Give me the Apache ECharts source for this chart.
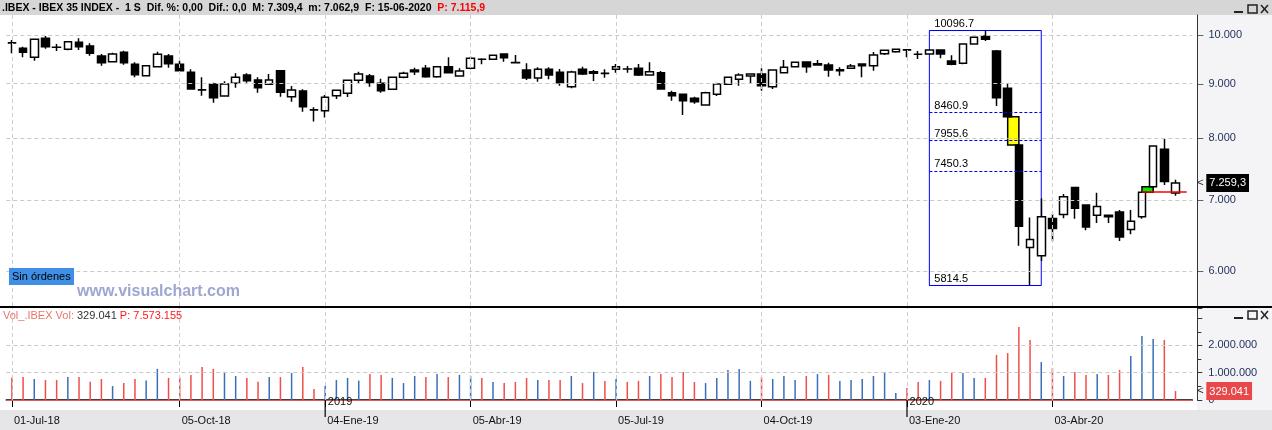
<!DOCTYPE html>
<html><head><meta charset="utf-8">
<script src="https://cdn.jsdelivr.net/npm/echarts/dist/echarts.min.js"></script>
<style>html,body{margin:0;padding:0;background:#d8d8d8}#c{width:1272px;height:430px}</style>
</head><body><div id="c"></div>
<script>
const FONT = 'Liberation Sans, Arial, sans-serif';

// weekly categories (last slot left empty, as in the reference)
const weeks = ['22-Jun-18','29-Jun-18','06-Jul-18','13-Jul-18','20-Jul-18','27-Jul-18','03-Ago-18','10-Ago-18','17-Ago-18','24-Ago-18','31-Ago-18','07-Sep-18','14-Sep-18','21-Sep-18','28-Sep-18','05-Oct-18','12-Oct-18','19-Oct-18','26-Oct-18','02-Nov-18','09-Nov-18','16-Nov-18','23-Nov-18','30-Nov-18','07-Dic-18','14-Dic-18','21-Dic-18','28-Dic-18',
'04-Ene-19','11-Ene-19','18-Ene-19','25-Ene-19','01-Feb-19','08-Feb-19','15-Feb-19','22-Feb-19','01-Mar-19','08-Mar-19','15-Mar-19','22-Mar-19','29-Mar-19','05-Abr-19','12-Abr-19','19-Abr-19','26-Abr-19','03-May-19','10-May-19','17-May-19','24-May-19','31-May-19','07-Jun-19','14-Jun-19','21-Jun-19','28-Jun-19','05-Jul-19','12-Jul-19','19-Jul-19','26-Jul-19','02-Ago-19','09-Ago-19','16-Ago-19','23-Ago-19','30-Ago-19','06-Sep-19','13-Sep-19','20-Sep-19','27-Sep-19','04-Oct-19','11-Oct-19','18-Oct-19','25-Oct-19','01-Nov-19','08-Nov-19','15-Nov-19','22-Nov-19','29-Nov-19','06-Dic-19','13-Dic-19','20-Dic-19','27-Dic-19',
'03-Ene-20','10-Ene-20','17-Ene-20','24-Ene-20','31-Ene-20','07-Feb-20','14-Feb-20','21-Feb-20','28-Feb-20','06-Mar-20','13-Mar-20','20-Mar-20','27-Mar-20','03-Abr-20','10-Abr-20','17-Abr-20','24-Abr-20','01-May-20','08-May-20','15-May-20','22-May-20','29-May-20','05-Jun-20','12-Jun-20','19-Jun-20','26-Jun-20'];

const openP = [9830,9717,9529,9929,9740,9696,9843,9765,9556,9438,
9633,9385,9157,9337,9556,9385,9224,8880,8994,8763,
9008,9171,9072,8988,9256,8749,8859,8505,8489,8769,
8814,9066,9151,9008,8891,9125,9270,9304,9138,9337,
9151,9304,9490,9487,9598,9420,9270,9111,9283,9224,
8942,9283,9236,9205,9283,9292,9304,9171,9217,8826,
8795,8720,8594,8795,8988,9086,9151,9191,8942,9217,
9337,9432,9397,9371,9256,9304,9391,9357,9604,9646,
9683,9594,9598,9681,9452,9405,9807,9978,9660,8911,
7881,6313,6200,6722,6781,7190,6920,6771,6771,6816,
6564,6746,7199,7808,7103];
const highP = [9892,9750,9915,9978,9807,9860,9929,9822,9598,9625,
9666,9426,9360,9646,9598,9459,9283,9125,9019,9047,
9204,9204,9125,9191,9270,8955,8891,8552,8782,8880,
9070,9236,9191,9098,9130,9236,9317,9371,9340,9529,
9304,9542,9508,9575,9605,9577,9405,9324,9324,9290,
9256,9337,9270,9283,9391,9351,9391,9426,9250,8865,
8800,8749,8846,9019,9130,9204,9195,9304,9275,9473,
9430,9435,9473,9418,9324,9391,9395,9640,9680,9700,
9683,9660,9685,9685,9571,9810,9955,10096.7,9681,9008,
7885,6737,7020,6786,7087,7195,6925,7107,6775,6845,
6845,7120,7870,7983,7309.4];
const lowP = [9612,9529,9459,9708,9660,9675,9681,9562,9357,9430,
9377,9125,9150,9330,9317,9250,8890,8769,8637,8755,
8922,9019,8826,8980,8749,8656,8471,8290,8363,8707,
8744,9000,8942,8826,8885,9105,9171,9118,9118,9204,
9145,9283,9385,9480,9438,9418,9072,9039,9086,8961,
8911,9171,9052,9118,9217,9217,9151,9165,8890,8675,
8410,8618,8590,8763,8975,8961,9008,8865,8897,9210,
9330,9217,9371,9138,9157,9300,9125,9256,9577,9625,
9529,9494,9590,9508,9365,9385,9800,9871,8576,8375,
6336,5814.5,6132,6404,6727,6717,6554,6658,6658,6404,
6498,6717,7195,7226,7062.9];
const closeP = [9835,9633,9907,9750,9738,9856,9750,9612,9418,9598,
9418,9177,9357,9592,9397,9256,8897,8878,8731,8994,
9125,9058,8922,9072,8833,8878,8563,8500,8739,8872,
9066,9191,9019,8865,9125,9204,9236,9138,9337,9217,
9250,9508,9487,9571,9521,9418,9111,9283,9171,9019,
9230,9191,9204,9200,9337,9288,9171,9236,8897,8769,
8675,8656,8826,8994,9125,9171,9191,8961,9270,9324,
9426,9337,9371,9270,9275,9351,9357,9577,9675,9696,
9680,9590,9681,9598,9385,9807,9950,9907,8731,8380,
6611,6423,6746,6577,7045,6872,6601,6899,6746,6459,
6683,7115.9,7864,7282,7259.3];
const volume = [820000,840000,770000,730000,730000,840000,840000,670000,770000,510000,
620000,770000,710000,1140000,810000,820000,920000,1210000,1140000,1030000,
880000,810000,670000,840000,840000,990000,1210000,400000,510000,730000,
810000,710000,950000,920000,810000,620000,880000,840000,950000,840000,
920000,880000,810000,660000,620000,660000,810000,730000,730000,730000,
880000,620000,1030000,700000,770000,660000,700000,880000,950000,840000,
1030000,660000,620000,810000,1100000,1140000,700000,840000,770000,880000,
730000,880000,950000,920000,700000,730000,770000,880000,1030000,260000,
440000,660000,730000,700000,990000,990000,810000,810000,1650000,1720000,
2670000,2200000,1390000,1170000,880000,1030000,920000,950000,920000,1100000,
1610000,2340000,2230000,2200000,329041];

const tickWeeks  = ['22-Jun-18','05-Oct-18','04-Ene-19','05-Abr-19','05-Jul-19','04-Oct-19','03-Ene-20','03-Abr-20'];
const tickLabels = ['01-Jul-18','05-Oct-18','04-Ene-19','05-Abr-19','05-Jul-19','04-Oct-19','03-Ene-20','03-Abr-20'];
const yearWeeks  = ['04-Ene-19','03-Ene-20'];
const yearLabels = ['2019','2020'];
const priceTicks = [6000,7000,8000,9000,10000];
const volTicks   = [1000000,2000000];
const fibLevels  = [10096.7,8460.9,7955.6,7450.3,5814.5];
const fibFrom = '17-Ene-20', fibTo = '27-Mar-20';
const gapDown = ['06-Mar-20','13-Mar-20'];
const gapUp   = ['29-May-20','05-Jun-20'];
const gapLine = 7115.9;

function fmtEs(v, dec) {
  const s = v.toFixed(dec); const parts = s.split('.');
  const i = parts[0].replace(/\B(?=(\d{3})+(?!\d))/g, '.');
  return parts[1] ? i + ',' + parts[1] : i;
}

const candles = openP.map((o, i) => [o, closeP[i], lowP[i], highP[i]]);
const UP = '#3a6fb8', DOWN = '#ee4f4a';
const volData = volume.map((v, i) => ({ value: v, itemStyle: { color: (i > 0 && closeP[i] >= closeP[i - 1]) ? UP : DOWN } }));

const GRID_L = 6.3, GRID_W = 1186;
const navy = '#1e2d5a';
const CLEAR = 'rgba(0,0,0,0)';
const vGrid = tickWeeks.map(w => ({ xAxis: w, lineStyle: { color: '#d0c9d6', type: [4, 3], width: 1 }, label: { show: false } }));

const mainMarkLines = []
  .concat(priceTicks.map(v => ({
    yAxis: v, lineStyle: { color: '#c9c9c9', type: [4, 3], width: 1 },
    label: { show: true, position: 'end', distance: 5, formatter: '{t|–}{v|' + fmtEs(v, 0) + '}',
      rich: { t: { color: '#333', fontSize: 11, fontFamily: FONT },
              v: { padding: [0, 0, 0, 5], color: navy, fontSize: 11, fontFamily: FONT } } }
  })))
  .concat(vGrid)
  .concat(fibLevels.map((v, k) => [
    { coord: [fibFrom, v], lineStyle: { color: '#0000ff', width: 1, type: (k === 0 || k === fibLevels.length - 1) ? 'solid' : [3, 2] },
      label: { show: true, position: 'insideStartTop', distance: [5, 1], formatter: v.toFixed(1), color: '#000', fontSize: 11, fontFamily: FONT } },
    { coord: [fibTo, v] }
  ]))
  .concat([[
    { coord: [gapUp[0], gapLine], lineStyle: { color: '#ff0000', width: 1.5, type: 'solid' }, label: { show: false } },
    { coord: [weeks[weeks.length - 1], gapLine] }
  ]])
  .concat([{
    yAxis: closeP[closeP.length - 1], lineStyle: { color: CLEAR, width: 1 },
    label: { show: true, position: 'end', distance: 5, formatter: '{a|<}{b|' + fmtEs(closeP[closeP.length - 1], 1) + '}',
      rich: { a: { color: '#333', fontSize: 11, width: 9, fontFamily: FONT },
              b: { backgroundColor: '#000', color: '#fff', padding: [4, 3, 3, 3], fontSize: 11, fontFamily: FONT } } }
  }]);

const volMarkLines = []
  .concat(volTicks.map(v => ({ yAxis: v, lineStyle: { color: '#c9c9c9', type: [4, 3], width: 1 }, label: { show: false } })))
  .concat(vGrid)
  .concat([{ yAxis: 0, lineStyle: { color: '#e85a5a', type: 'solid', width: 1 }, label: { show: false } }])
  .concat([{
    yAxis: volume[volume.length - 1], lineStyle: { color: CLEAR, width: 1 },
    label: { show: true, position: 'end', distance: 5, formatter: '{a|<}{b|' + fmtEs(volume[volume.length - 1], 0) + '}',
      rich: { a: { color: '#333', fontSize: 11, width: 9, fontFamily: FONT },
              b: { backgroundColor: '#e8484a', color: '#fff', padding: [4, 3, 3, 3], fontSize: 11, fontFamily: FONT } } }
  }]);

const chart = echarts.init(document.getElementById('c'), null, { renderer: 'canvas' });
chart.setOption({
  animation: false,
  backgroundColor: '#d6d6d6',
  textStyle: { fontFamily: FONT },
  title: {
    left: 2, top: 3, padding: 0,
    text: '{a|.IBEX - IBEX 35 INDEX -  1 S  Dif. %: 0,00  Dif.: 0,0  M: ' + fmtEs(highP[104], 1) + '  m: ' + fmtEs(lowP[104], 1) + '  F: 15-06-2020  }{b|P: ' + fmtEs(gapLine, 1) + '}',
    textStyle: { rich: { a: { color: '#000', fontSize: 10.5, fontFamily: FONT }, b: { color: '#ff0000', fontSize: 10.5, fontFamily: FONT } } }
  },
  graphic: { elements: [
    { type: 'rect', z: -5, shape: { x: 0, y: 15, width: 1197, height: 291 }, style: { fill: '#ffffff' } },
    { type: 'rect', z: -5, shape: { x: 0, y: 308, width: 1197, height: 102 }, style: { fill: '#ffffff' } },
    { type: 'rect', z: -5, shape: { x: 1197, y: 15, width: 75, height: 395 }, style: { fill: '#f4f4f6' } },
    { type: 'rect', z: -5, shape: { x: 0, y: 410, width: 1272, height: 20 }, style: { fill: '#e6e6e9' } },
    { type: 'rect', z: 50, shape: { x: 0, y: 306, width: 1272, height: 2 }, style: { fill: '#000' } },
    { type: 'rect', z: 20, shape: { x: 9, y: 268, width: 65, height: 17 }, style: { fill: '#3f8fe6' } },
    { type: 'text', z: 21, style: { x: 12, y: 277, text: 'Sin órdenes', fill: '#000', font: '11px ' + FONT, verticalAlign: 'middle', textVerticalAlign: 'middle' } },
    { type: 'text', z: 21, style: { x: 77, y: 292, text: 'www.visualchart.com', fill: '#9fa6d0', font: 'bold 16px ' + FONT, verticalAlign: 'middle', textVerticalAlign: 'middle' } },
    { type: 'text', z: 21, style: { x: 3, y: 316, text: '{a|Vol_.IBEX Vol: }{b|329.041}{c| P: 7.573.155}', font: '11px ' + FONT, verticalAlign: 'middle', textVerticalAlign: 'middle',
        rich: { a: { fill: '#e8746c', color: '#e8746c' }, b: { fill: '#333', color: '#333' }, c: { fill: '#ff1a1a', color: '#ff1a1a' } } } },
    // window buttons
    { type: 'line', z: 30, shape: { x1: 1234, y1: 12, x2: 1243, y2: 12 }, style: { stroke: '#222', lineWidth: 2 } },
    { type: 'rect', z: 30, shape: { x: 1248, y: 5, width: 9, height: 8 }, style: { stroke: '#222', lineWidth: 1.5, fill: 'none' } },
    { type: 'line', z: 30, shape: { x1: 1261, y1: 5, x2: 1268, y2: 13 }, style: { stroke: '#222', lineWidth: 1.5 } },
    { type: 'line', z: 30, shape: { x1: 1268, y1: 5, x2: 1261, y2: 13 }, style: { stroke: '#222', lineWidth: 1.5 } },
    { type: 'line', z: 30, shape: { x1: 1234, y1: 318, x2: 1243, y2: 318 }, style: { stroke: '#222', lineWidth: 2 } },
    { type: 'rect', z: 30, shape: { x: 1248, y: 311, width: 9, height: 8 }, style: { stroke: '#222', lineWidth: 1.5, fill: 'none' } },
    { type: 'line', z: 30, shape: { x1: 1261, y1: 311, x2: 1268, y2: 319 }, style: { stroke: '#222', lineWidth: 1.5 } },
    { type: 'line', z: 30, shape: { x1: 1268, y1: 311, x2: 1261, y2: 319 }, style: { stroke: '#222', lineWidth: 1.5 } }
  ] },
  grid: [
    { left: GRID_L, top: 15, width: GRID_W, height: 291 },
    { left: GRID_L, top: 308, width: GRID_W, height: 92 }
  ],
  xAxis: [
    { type: 'category', gridIndex: 0, data: weeks, boundaryGap: true,
      axisLine: { show: false }, axisTick: { show: false }, axisLabel: { show: false }, splitLine: { show: false } },
    { type: 'category', gridIndex: 1, data: weeks, boundaryGap: true, offset: 10,
      axisLine: { show: true, lineStyle: { color: '#000', width: 1.5 } },
      axisTick: { show: true, alignWithLabel: true, length: 7, interval: (i, v) => tickWeeks.includes(v), lineStyle: { color: '#000' } },
      axisLabel: { show: true, interval: (i, v) => tickWeeks.includes(v), align: 'left', margin: 5, padding: [0, 0, 0, 2],
        color: '#111', fontSize: 11, fontFamily: FONT, formatter: v => tickLabels[tickWeeks.indexOf(v)] || '' },
      splitLine: { show: false } }
  ],
  yAxis: [
    { type: 'log', gridIndex: 0, position: 'right', offset: 5, min: 5562, max: 10442,
      axisLine: { show: true, lineStyle: { color: '#333' } }, axisTick: { show: false }, axisLabel: { show: false }, splitLine: { show: false } },
    { type: 'value', gridIndex: 1, position: 'right', offset: 5, min: 0, max: 3370000, interval: 1000000,
      axisLine: { show: true, lineStyle: { color: '#333' } },
      axisTick: { show: true, length: 5, lineStyle: { color: '#333' } },
      minorTick: { show: true, splitNumber: 2, length: 4, lineStyle: { color: '#333' } },
      axisLabel: { margin: 11, color: navy, fontSize: 11, fontFamily: FONT,
        formatter: v => v === 0 ? '0' : (v <= 2000000 ? fmtEs(v, 0) : '') },
      splitLine: { show: false } }
  ],
  series: [
    { type: 'candlestick', xAxisIndex: 0, yAxisIndex: 0, data: candles, barWidth: 8,
      itemStyle: { color: '#ffffff', color0: '#000000', borderColor: '#000000', borderColor0: '#000000', borderWidth: 1.5 },
      markLine: { silent: true, symbol: 'none', animation: false, data: mainMarkLines },
      markArea: { silent: true, label: { show: false }, data: [
        [{ coord: [fibFrom, fibLevels[0]], itemStyle: { color: 'rgba(0,0,0,0)', borderColor: '#0000ff', borderWidth: 1 } }, { coord: [fibTo, fibLevels[fibLevels.length - 1]] }],
        [{ coord: [gapDown[0], closeP[weeks.indexOf(gapDown[0])]], itemStyle: { color: '#ffff00', borderColor: '#000', borderWidth: 1.5 } }, { coord: [gapDown[1], openP[weeks.indexOf(gapDown[1])]] }],
        [{ coord: [gapUp[0], closeP[weeks.indexOf(gapUp[0])]], itemStyle: { color: '#00ee00', borderColor: '#000', borderWidth: 1.5 } }, { coord: [gapUp[1], openP[weeks.indexOf(gapUp[1])]] }]
      ] }
    },
    { type: 'bar', xAxisIndex: 1, yAxisIndex: 1, data: volData, barWidth: 1.5,
      markLine: { silent: true, symbol: 'none', animation: false, data: volMarkLines },
      markPoint: { silent: true, symbol: 'rect', symbolSize: [1.2, 17], symbolOffset: [0, 8.5], itemStyle: { color: '#000' },
        label: { show: true, position: 'right', distance: 2, offset: [0, -7], color: '#111', fontSize: 11, fontFamily: FONT, formatter: p => p.name },
        data: yearWeeks.map((w, k) => ({ name: yearLabels[k], coord: [w, 0], value: 0 })) }
    }
  ]
});
</script></body></html>
